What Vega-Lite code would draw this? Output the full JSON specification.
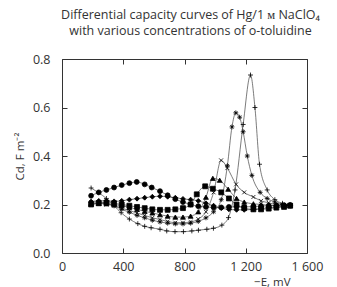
{
  "$schema": "https://vega.github.io/schema/vega-lite/v6.json",
  "width": 245,
  "height": 194,
  "autosize": {"type": "none"},
  "padding": {"left": 62, "top": 59, "right": 30, "bottom": 34},
  "background": "white",
  "title": {
    "text": ["Differential capacity curves of Hg/1 ᴍ NaClO₄", "with various concentrations of o-toluidine"],
    "anchor": "middle",
    "frame": "group",
    "font": "Open Sans",
    "fontSize": 12.5,
    "fontWeight": "normal",
    "color": "#333",
    "lineHeight": 16,
    "offset": 16,
    "dx": 6
  },
  "config": {
    "view": {"stroke": "#333", "strokeWidth": 1},
    "axis": {
      "domain": false,
      "grid": false,
      "tickColor": "#333",
      "tickSize": -5,
      "tickWidth": 1,
      "labelFont": "Open Sans",
      "labelFontSize": 12.5,
      "labelColor": "#333",
      "labelFlush": false,
      "labelOverlap": false,
      "titleFont": "Open Sans",
      "titleFontSize": 11.5,
      "titleFontWeight": "normal",
      "titleColor": "#333"
    }
  },
  "data": {"values": [
    {"s":"A","e":190,"c":0.268},{"s":"A","e":238,"c":0.249},{"s":"A","e":290,"c":0.225},{"s":"A","e":340,"c":0.195},{"s":"A","e":386,"c":0.166},{"s":"A","e":440,"c":0.14},{"s":"A","e":495,"c":0.121},{"s":"A","e":540,"c":0.11},{"s":"A","e":582,"c":0.104},{"s":"A","e":640,"c":0.098},{"s":"A","e":684,"c":0.091},{"s":"A","e":738,"c":0.088},{"s":"A","e":793,"c":0.088},{"s":"A","e":848,"c":0.091},{"s":"A","e":891,"c":0.094},{"s":"A","e":946,"c":0.098},{"s":"A","e":989,"c":0.102},{"s":"A","e":1044,"c":0.115},{"s":"A","e":1087,"c":0.146},{"s":"A","e":1130,"c":0.26},{"s":"A","e":1183,"c":0.53},{"s":"A","e":1231,"c":0.734},{"s":"A","e":1260,"c":0.6},{"s":"A","e":1290,"c":0.366},{"s":"A","e":1340,"c":0.26},{"s":"A","e":1390,"c":0.22},{"s":"A","e":1440,"c":0.205},{"s":"A","e":1490,"c":0.198},
    {"s":"B","e":190,"c":0.21},{"s":"B","e":240,"c":0.21},{"s":"B","e":290,"c":0.205},{"s":"B","e":340,"c":0.195},{"s":"B","e":390,"c":0.18},{"s":"B","e":440,"c":0.168},{"s":"B","e":490,"c":0.155},{"s":"B","e":540,"c":0.145},{"s":"B","e":590,"c":0.135},{"s":"B","e":640,"c":0.128},{"s":"B","e":690,"c":0.123},{"s":"B","e":740,"c":0.12},{"s":"B","e":790,"c":0.12},{"s":"B","e":840,"c":0.123},{"s":"B","e":890,"c":0.13},{"s":"B","e":940,"c":0.145},{"s":"B","e":990,"c":0.17},{"s":"B","e":1040,"c":0.22},{"s":"B","e":1080,"c":0.36},{"s":"B","e":1110,"c":0.52},{"s":"B","e":1135,"c":0.578},{"s":"B","e":1160,"c":0.56},{"s":"B","e":1183,"c":0.5},{"s":"B","e":1210,"c":0.4},{"s":"B","e":1240,"c":0.32},{"s":"B","e":1294,"c":0.25},{"s":"B","e":1340,"c":0.225},{"s":"B","e":1390,"c":0.21},{"s":"B","e":1440,"c":0.2},{"s":"B","e":1490,"c":0.197},
    {"s":"C","e":190,"c":0.2},{"s":"C","e":240,"c":0.205},{"s":"C","e":290,"c":0.2},{"s":"C","e":340,"c":0.195},{"s":"C","e":390,"c":0.185},{"s":"C","e":440,"c":0.175},{"s":"C","e":490,"c":0.165},{"s":"C","e":540,"c":0.155},{"s":"C","e":590,"c":0.145},{"s":"C","e":640,"c":0.138},{"s":"C","e":690,"c":0.13},{"s":"C","e":740,"c":0.125},{"s":"C","e":790,"c":0.125},{"s":"C","e":840,"c":0.128},{"s":"C","e":890,"c":0.14},{"s":"C","e":940,"c":0.17},{"s":"C","e":990,"c":0.25},{"s":"C","e":1039,"c":0.382},{"s":"C","e":1080,"c":0.35},{"s":"C","e":1137,"c":0.283},{"s":"C","e":1190,"c":0.25},{"s":"C","e":1250,"c":0.231},{"s":"C","e":1300,"c":0.215},{"s":"C","e":1350,"c":0.207},{"s":"C","e":1400,"c":0.2},{"s":"C","e":1450,"c":0.198},{"s":"C","e":1490,"c":0.196},
    {"s":"D","e":190,"c":0.205},{"s":"D","e":240,"c":0.205},{"s":"D","e":290,"c":0.203},{"s":"D","e":340,"c":0.2},{"s":"D","e":390,"c":0.195},{"s":"D","e":440,"c":0.188},{"s":"D","e":490,"c":0.18},{"s":"D","e":540,"c":0.172},{"s":"D","e":590,"c":0.165},{"s":"D","e":640,"c":0.158},{"s":"D","e":690,"c":0.152},{"s":"D","e":740,"c":0.148},{"s":"D","e":790,"c":0.148},{"s":"D","e":840,"c":0.152},{"s":"D","e":890,"c":0.17},{"s":"D","e":940,"c":0.23},{"s":"D","e":985,"c":0.308},{"s":"D","e":1030,"c":0.3},{"s":"D","e":1085,"c":0.263},{"s":"D","e":1140,"c":0.225},{"s":"D","e":1190,"c":0.21},{"s":"D","e":1250,"c":0.203},{"s":"D","e":1300,"c":0.2},{"s":"D","e":1350,"c":0.197},{"s":"D","e":1400,"c":0.196},{"s":"D","e":1450,"c":0.195},{"s":"D","e":1490,"c":0.195},
    {"s":"E","e":190,"c":0.2},{"s":"E","e":240,"c":0.205},{"s":"E","e":290,"c":0.208},{"s":"E","e":340,"c":0.205},{"s":"E","e":390,"c":0.2},{"s":"E","e":440,"c":0.195},{"s":"E","e":490,"c":0.19},{"s":"E","e":540,"c":0.185},{"s":"E","e":590,"c":0.18},{"s":"E","e":640,"c":0.178},{"s":"E","e":690,"c":0.178},{"s":"E","e":740,"c":0.18},{"s":"E","e":790,"c":0.185},{"s":"E","e":840,"c":0.2},{"s":"E","e":880,"c":0.242},{"s":"E","e":935,"c":0.275},{"s":"E","e":985,"c":0.265},{"s":"E","e":1040,"c":0.25},{"s":"E","e":1090,"c":0.225},{"s":"E","e":1140,"c":0.2},{"s":"E","e":1190,"c":0.185},{"s":"E","e":1250,"c":0.18},{"s":"E","e":1300,"c":0.18},{"s":"E","e":1350,"c":0.183},{"s":"E","e":1400,"c":0.187},{"s":"E","e":1450,"c":0.19},{"s":"E","e":1490,"c":0.195},
    {"s":"F","e":190,"c":0.212},{"s":"F","e":240,"c":0.215},{"s":"F","e":290,"c":0.215},{"s":"F","e":340,"c":0.213},{"s":"F","e":390,"c":0.215},{"s":"F","e":440,"c":0.22},{"s":"F","e":490,"c":0.224},{"s":"F","e":540,"c":0.228},{"s":"F","e":590,"c":0.232},{"s":"F","e":640,"c":0.234},{"s":"F","e":690,"c":0.232},{"s":"F","e":740,"c":0.228},{"s":"F","e":790,"c":0.223},{"s":"F","e":840,"c":0.22},{"s":"F","e":890,"c":0.215},{"s":"F","e":940,"c":0.205},{"s":"F","e":990,"c":0.195},{"s":"F","e":1040,"c":0.185},{"s":"F","e":1090,"c":0.18},{"s":"F","e":1140,"c":0.178},{"s":"F","e":1190,"c":0.178},{"s":"F","e":1250,"c":0.18},{"s":"F","e":1300,"c":0.183},{"s":"F","e":1350,"c":0.187},{"s":"F","e":1400,"c":0.19},{"s":"F","e":1450,"c":0.193},{"s":"F","e":1490,"c":0.195},
    {"s":"G","e":190,"c":0.236},{"s":"G","e":240,"c":0.25},{"s":"G","e":290,"c":0.26},{"s":"G","e":340,"c":0.27},{"s":"G","e":390,"c":0.28},{"s":"G","e":440,"c":0.288},{"s":"G","e":488,"c":0.293},{"s":"G","e":540,"c":0.283},{"s":"G","e":586,"c":0.27},{"s":"G","e":640,"c":0.255},{"s":"G","e":690,"c":0.238},{"s":"G","e":740,"c":0.222},{"s":"G","e":790,"c":0.21},{"s":"G","e":840,"c":0.2},{"s":"G","e":890,"c":0.193},{"s":"G","e":940,"c":0.19},{"s":"G","e":990,"c":0.188},{"s":"G","e":1040,"c":0.188},{"s":"G","e":1090,"c":0.19},{"s":"G","e":1140,"c":0.19},{"s":"G","e":1190,"c":0.19},{"s":"G","e":1250,"c":0.192},{"s":"G","e":1300,"c":0.193},{"s":"G","e":1350,"c":0.195},{"s":"G","e":1400,"c":0.196},{"s":"G","e":1450,"c":0.197},{"s":"G","e":1490,"c":0.198}
  ]},
  "resolve": {"axis": {"x": "independent", "y": "independent"}},
  "layer": [
    {
      "mark": {"type": "line", "interpolate": "monotone", "stroke": "#444", "strokeWidth": 0.7},
      "encoding": {
        "x": {"field": "e", "type": "quantitative", "scale": {"domain": [0, 1600]},
          "axis": {"orient": "bottom", "values": [0, 400, 800, 1200, 1600], "labelPadding": 12,
            "labelExpr": "datum.value >= 1000 ? floor(datum.value/1000) + ' ' + format(datum.value % 1000, '03d') : datum.label",
            "title": "−E, mV", "titleX": 228, "titleY": 32, "titleAlign": "right", "titleAnchor": null, "titleBaseline": "alphabetic"}},
        "y": {"field": "c", "type": "quantitative", "scale": {"domain": [0, 0.8]},
          "axis": {"orient": "left", "values": [0, 0.2, 0.4, 0.6, 0.8], "format": ".1f", "labelPadding": 17,
            "title": "Cd, F m⁻²", "titleX": -42, "titleY": 97, "titleAngle": -90, "titleAlign": "center", "titleBaseline": "middle"}},
        "detail": {"field": "s"}
      }
    },
    {
      "mark": {"type": "point", "filled": true, "fill": "black", "stroke": "black", "strokeWidth": 0.8, "size": 24, "opacity": 1},
      "encoding": {
        "x": {"field": "e", "type": "quantitative", "scale": {"domain": [0, 1600]},
          "axis": {"orient": "top", "values": [0, 400, 800, 1200, 1600], "labels": false, "title": null}},
        "y": {"field": "c", "type": "quantitative", "scale": {"domain": [0, 0.8]},
          "axis": {"orient": "right", "values": [0, 0.2, 0.4, 0.6, 0.8], "labels": false, "title": null}},
        "shape": {"field": "s", "type": "nominal", "legend": null,
          "scale": {"domain": ["A", "B", "C", "D", "E", "F", "G"],
            "range": ["M-1,0H1M0,-1V1", "M-1,0H1M0,-1V1M-0.7,-0.7L0.7,0.7M-0.7,0.7L0.7,-0.7", "M-0.8,-0.8L0.8,0.8M-0.8,0.8L0.8,-0.8", "triangle-up", "square", "diamond", "circle"]}}
      }
    }
  ]
}
